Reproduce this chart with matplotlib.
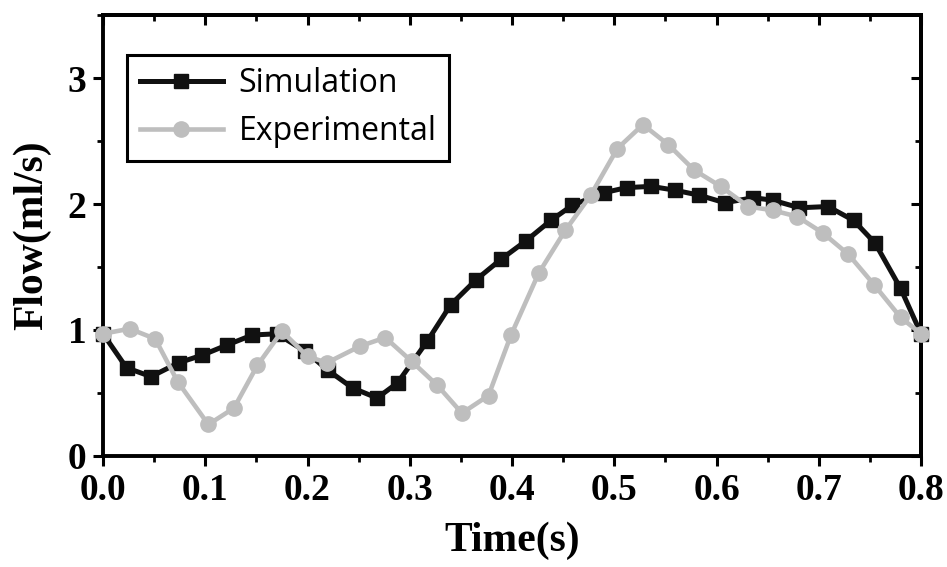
import matplotlib
matplotlib.use('Agg')
import matplotlib.pyplot as plt
from matplotlib.ticker import MultipleLocator

# simulation data
sim_t = [0.0, 0.023, 0.047, 0.074, 0.097, 0.121, 0.146, 0.170, 0.198, 0.220,
         0.244, 0.268, 0.288, 0.317, 0.340, 0.365, 0.389, 0.414, 0.438, 0.459,
         0.490, 0.512, 0.536, 0.559, 0.583, 0.608, 0.636, 0.655, 0.681, 0.709,
         0.734, 0.755, 0.780, 0.800]
sim_flow = [0.97, 0.70, 0.63, 0.74, 0.80, 0.88, 0.96, 0.97, 0.83, 0.68,
            0.54, 0.46, 0.58, 0.91, 1.20, 1.40, 1.56, 1.71, 1.87, 1.99,
            2.09, 2.13, 2.14, 2.11, 2.07, 2.01, 2.05, 2.03, 1.97, 1.98,
            1.87, 1.69, 1.33, 0.97]

# experimental data
exp_t = [0.0, 0.026, 0.051, 0.073, 0.103, 0.128, 0.151, 0.175, 0.200, 0.219,
         0.251, 0.276, 0.302, 0.327, 0.351, 0.377, 0.399, 0.426, 0.452, 0.477,
         0.503, 0.528, 0.553, 0.578, 0.604, 0.631, 0.655, 0.679, 0.704, 0.729,
         0.754, 0.780, 0.800]
exp_flow = [0.97, 1.01, 0.93, 0.59, 0.25, 0.38, 0.72, 0.99, 0.79, 0.74,
            0.87, 0.94, 0.75, 0.56, 0.34, 0.48, 0.96, 1.45, 1.79, 2.07,
            2.44, 2.63, 2.47, 2.27, 2.14, 1.98, 1.95, 1.90, 1.77, 1.60,
            1.36, 1.10, 0.97]

x_ticks = [0.0, 0.1, 0.2, 0.3, 0.4, 0.5, 0.6, 0.7, 0.8]
y_ticks = [0, 1, 2, 3]

gray = '#bebebe'

fig = plt.figure(figsize=(9.47, 5.67), dpi=100)
ax = fig.add_axes([0.1088, 0.1958, 0.8638, 0.7777])

ax.plot(sim_t, sim_flow, color='#111111', lw=3.6, marker='s', ms=10.5,
        label='Simulation', clip_on=False, zorder=3)
ax.plot(exp_t, exp_flow, color=gray, lw=3.3, marker='o', ms=11,
        label='Experimental', clip_on=False, zorder=4)

ax.set_xlim(0, 0.8)
ax.set_ylim(0, 3.5)
ax.set_xticks(x_ticks)
ax.set_xticklabels(['%.1f' % t for t in x_ticks])
ax.set_yticks(y_ticks)
ax.set_yticklabels([str(v) for v in y_ticks])
ax.xaxis.set_minor_locator(MultipleLocator(0.05))
ax.yaxis.set_minor_locator(MultipleLocator(0.5))

for sp in ax.spines.values():
    sp.set_linewidth(2.8)

ax.tick_params(which='major', direction='out', length=7, width=2.2,
               labelsize=27, pad=5)
ax.tick_params(which='minor', direction='out', length=4, width=2.0)
for lab in ax.get_xticklabels() + ax.get_yticklabels():
    lab.set_family('Liberation Serif')
    lab.set_weight('bold')

# mirrored ticks pointing inward on top and right
top = ax.secondary_xaxis('top')
top.set_xticks(x_ticks)
top.xaxis.set_minor_locator(MultipleLocator(0.05))
top.tick_params(which='major', direction='in', length=7, width=2.2, labeltop=False)
top.tick_params(which='minor', direction='in', length=4, width=2.0)
top.spines['top'].set_linewidth(2.8)
right = ax.secondary_yaxis('right')
right.set_yticks(y_ticks)
right.yaxis.set_minor_locator(MultipleLocator(0.5))
right.tick_params(which='major', direction='in', length=7, width=2.2, labelright=False)
right.tick_params(which='minor', direction='in', length=4, width=2.0)
right.spines['right'].set_linewidth(2.8)

ax.set_xlabel('Time(s)', family='Liberation Serif', weight='bold', fontsize=30, labelpad=10)
ax.set_ylabel('Flow(ml/s)', family='Liberation Serif', weight='bold', fontsize=30, labelpad=12)

leg = ax.legend(loc='upper left', bbox_to_anchor=(0.029, 0.91), prop={'family': 'Open Sans', 'size': 23},
                frameon=True, fancybox=False, handlelength=2.6, borderpad=0.4,
                labelspacing=0.45, handletextpad=0.5, borderaxespad=0)
leg.get_frame().set_edgecolor('black')
leg.get_frame().set_linewidth(2.2)
leg.get_frame().set_alpha(1)

fig.savefig('out.png', dpi=100)
